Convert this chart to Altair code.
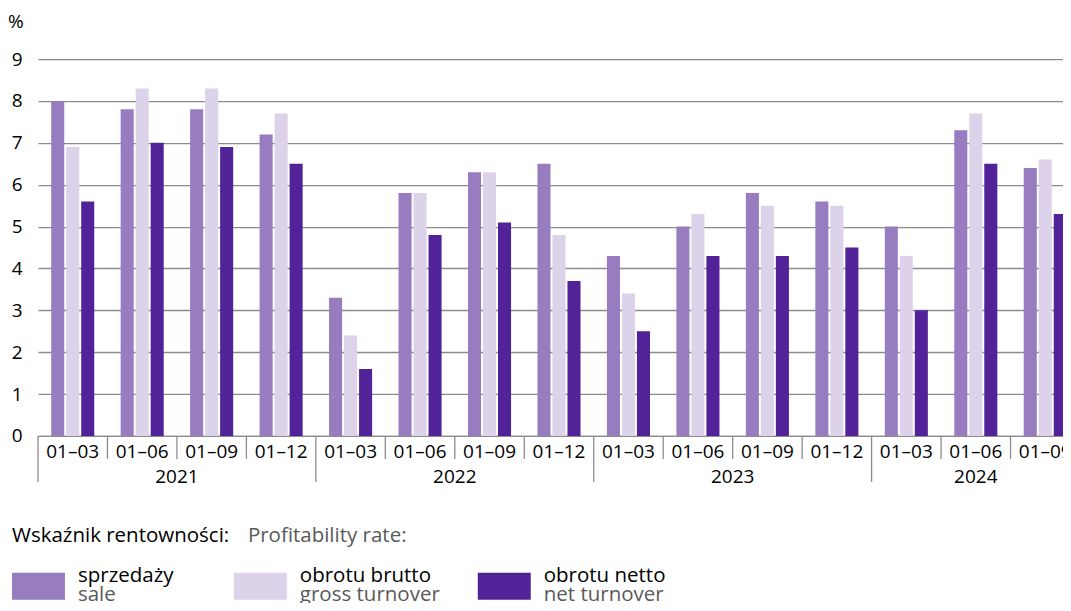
import altair as alt
import pandas as pd

# ---------------- data ----------------
years = ["2021", "2022", "2023", "2024"]
periods_per_year = [
    ["01–03", "01–06", "01–09", "01–12"],
    ["01–03", "01–06", "01–09", "01–12"],
    ["01–03", "01–06", "01–09", "01–12"],
    ["01–03", "01–06", "01–09"],
]
series_pl = ["sprzedaży", "obrotu brutto", "obrotu netto"]
series_en = ["sale", "gross turnover", "net turnover"]
sale = [8.0, 7.8, 7.8, 7.2, 3.3, 5.8, 6.3, 6.5, 4.3, 5.0, 5.8, 5.6, 5.0, 7.3, 6.4]
gross = [6.9, 8.3, 8.3, 7.7, 2.4, 5.8, 6.3, 4.8, 3.4, 5.3, 5.5, 5.5, 4.3, 7.7, 6.6]
net = [5.6, 7.0, 6.9, 6.5, 1.6, 4.8, 5.1, 3.7, 2.5, 4.3, 4.3, 4.5, 3.0, 6.5, 5.3]
y_ticks = [0, 1, 2, 3, 4, 5, 6, 7, 8, 9]
legend_title_pl = "Wskaźnik rentowności:"
legend_title_en = "Profitability rate:"
unit_label = "%"

# ---------------- styles ----------------
COLORS = ["#977dc0", "#dcd3ea", "#522298"]
GRAY = "#8c8c8c"
TEXT_GRAY = "#595959"
FONT = "Open Sans"
FS = 19
LFS = 20.5
STEP = 69.5
PLOT_H = 377

keys, key_year, key_first = [], [], []
for y, ps in zip(years, periods_per_year):
    for j, p in enumerate(ps):
        keys.append(f"{y}|{p}")
        key_year.append(y)
        key_first.append(j == 0)

rows = []
for name, vals in zip(series_pl, [sale, gross, net]):
    for k, v in zip(keys, vals):
        rows.append({"key": k, "series": name, "value": v})
df = pd.DataFrame(rows)
keys_df = pd.DataFrame({"key": keys, "year": key_year, "first": key_first})

year_rows = []
for y, ps in zip(years, periods_per_year):
    n = len(ps)
    mid = ps[(n - 1) // 2]
    year_rows.append({"key": f"{y}|{mid}", "year": y, "even": n % 2 == 0})
year_df = pd.DataFrame(year_rows)

x_scale = alt.Scale(paddingInner=0, paddingOuter=0)

bars = alt.Chart(df).mark_bar().encode(
    x=alt.X(
        "key:N",
        sort=keys,
        title=None,
        scale=x_scale,
        axis=alt.Axis(
            labelExpr="split(datum.value, '|')[1]",
            ticks=False,
            domain=True,
            domainColor=GRAY,
            domainWidth=1.3,
            labelAngle=0,
            labelFont=FONT,
            labelFontSize=FS,
            labelColor="black",
            labelPadding=7,
            labelOverlap=False,
            grid=False,
        ),
    ),
    xOffset=alt.XOffset(
        "series:N", sort=series_pl, scale=alt.Scale(paddingInner=0.13, paddingOuter=0.88)
    ),
    y=alt.Y(
        "value:Q",
        title=None,
        scale=alt.Scale(domain=[0, 9], nice=False),
        axis=alt.Axis(
            values=y_ticks,
            ticks=False,
            domain=False,
            grid=True,
            gridColor=GRAY,
            gridWidth=1.3,
            labelFont=FONT,
            labelFontSize=FS,
            labelColor="black",
            labelPadding=16,
        ),
    ),
    color=alt.Color(
        "series:N", scale=alt.Scale(domain=series_pl, range=COLORS), legend=None
    ),
)

sep_minor = (
    alt.Chart(keys_df)
    .transform_filter("!datum.first")
    .mark_rule(color=GRAY, strokeWidth=1.3)
    .encode(
        x=alt.X("key:N", sort=keys, title=None, bandPosition=0),
        y=alt.value(PLOT_H),
        y2=alt.value(PLOT_H + 23),
    )
)
sep_major = (
    alt.Chart(keys_df)
    .transform_filter("datum.first")
    .mark_rule(color=GRAY, strokeWidth=1.3)
    .encode(
        x=alt.X("key:N", sort=keys, title=None, bandPosition=0),
        y=alt.value(PLOT_H),
        y2=alt.value(PLOT_H + 46),
    )
)

year_even = (
    alt.Chart(year_df)
    .transform_filter("datum.even")
    .mark_text(font=FONT, fontSize=FS, color="black", baseline="middle")
    .encode(
        x=alt.X("key:N", sort=keys, title=None, bandPosition=1),
        y=alt.value(PLOT_H + 41),
        text="year:N",
    )
)
year_odd = (
    alt.Chart(year_df)
    .transform_filter("!datum.even")
    .mark_text(font=FONT, fontSize=FS, color="black", baseline="middle")
    .encode(
        x=alt.X("key:N", sort=keys, title=None, bandPosition=0.5),
        y=alt.value(PLOT_H + 41),
        text="year:N",
    )
)

one = pd.DataFrame({"pl": [legend_title_pl], "en": [legend_title_en], "u": [unit_label]})

unit = alt.Chart(one).mark_text(
    font=FONT, fontSize=FS, color="black", align="left", baseline="alphabetic"
).encode(x=alt.value(-30), y=alt.value(-31), text="u:N")

leg_title_pl = alt.Chart(one).mark_text(
    font=FONT, fontSize=LFS, color="black", align="left", baseline="alphabetic"
).encode(x=alt.value(-26), y=alt.value(483), text="pl:N")
leg_title_en = alt.Chart(one).mark_text(
    font=FONT, fontSize=LFS, color=TEXT_GRAY, align="left", baseline="alphabetic"
).encode(x=alt.value(210), y=alt.value(483), text="en:N")

LEG_BOX_X = [-26, 196, 440]
LEG_BOX_W = 53
LEG_TXT_DX = 66
LEG_BOX_Y = 514
LEG_L1 = 523
LEG_L2 = 542

legend_layers = []
for i, (pl, en, col) in enumerate(zip(series_pl, series_en, COLORS)):
    d = pd.DataFrame({"pl": [pl], "en": [en]})
    x0 = LEG_BOX_X[i]
    legend_layers.append(
        alt.Chart(d).mark_rect(color=col).encode(
            x=alt.value(x0), x2=alt.value(x0 + LEG_BOX_W),
            y=alt.value(LEG_BOX_Y), y2=alt.value(LEG_BOX_Y + 27),
        )
    )
    legend_layers.append(
        alt.Chart(d).mark_text(
            font=FONT, fontSize=LFS, color="black", align="left", baseline="alphabetic"
        ).encode(x=alt.value(x0 + LEG_TXT_DX), y=alt.value(LEG_L1), text="pl:N")
    )
    legend_layers.append(
        alt.Chart(d).mark_text(
            font=FONT, fontSize=LFS, color=TEXT_GRAY, align="left", baseline="alphabetic"
        ).encode(x=alt.value(x0 + LEG_TXT_DX), y=alt.value(LEG_L2), text="en:N")
    )

chart = (
    alt.layer(
        bars, sep_minor, sep_major, year_even, year_odd, unit,
        leg_title_pl, leg_title_en, *legend_layers
    )
    .properties(
        width=15 * STEP,
        height=PLOT_H,
        autosize=alt.AutoSizeParams(type="none"),
        padding={"left": 30, "top": 51, "right": -17, "bottom": 167},
        background="white",
    )
    .configure_view(stroke=None)
)

chart.save("out.html", embed_options={"renderer": "svg", "actions": False})
